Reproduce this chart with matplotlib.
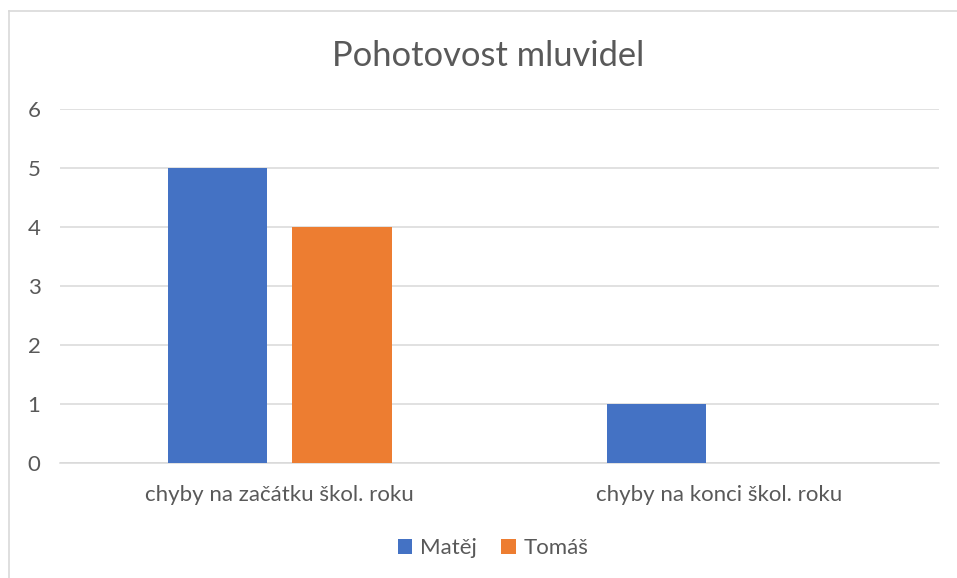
import matplotlib
matplotlib.use("Agg")
import matplotlib.pyplot as plt
import numpy as np
from matplotlib.lines import Line2D

categories = ["chyby na začátku škol. roku", "chyby na konci škol. roku"]
series_names = ["Matěj", "Tomáš"]
matej = [5, 1]
tomas = [4, 0]
yticks = [0, 1, 2, 3, 4, 5, 6]
title = "Pohotovost mluvidel"

colors = ["#4472C4", "#ED7D31"]
txt = "#595959"
grid = "#D9D9D9"

plt.rcParams['font.family'] = ['Lato', 'DejaVu Sans']

fig = plt.figure(figsize=(9.57, 5.78), dpi=100)
ax = fig.add_axes([60/957, 1-463/578, (938.5-60)/957, (463-109)/578])

x = np.arange(len(categories))
w = 0.2255
off = 0.142
ax.bar(x - off, matej, w, color=colors[0], label=series_names[0], zorder=3)
ax.bar(x + off, tomas, w, color=colors[1], label=series_names[1], zorder=3)

ax.set_xlim(-0.5, len(categories) - 0.5)
ax.set_ylim(0, 6)
ax.set_yticks(yticks)
ax.set_xticks(x)
ax.set_xticklabels(categories)
ax.tick_params(axis='both', length=0, labelsize=16, colors=txt)
ax.tick_params(axis='y', pad=14)
ax.tick_params(axis='x', pad=16)
ax.yaxis.grid(True, color=grid, linewidth=1.1, zorder=0)
for s in ['top', 'right', 'left']:
    ax.spines[s].set_visible(False)
ax.spines['bottom'].set_color(grid)
ax.spines['bottom'].set_linewidth(1.1)
ax.spines['bottom'].set_zorder(1)

fig.text(488/957, 1-56/578, title, ha='center', va='center', fontsize=24.8, color=txt)

leg = fig.legend(loc='center', bbox_to_anchor=(493/957, 1-548/578), ncol=2, frameon=False,
                 fontsize=16, handlelength=0.65, handleheight=0.65, handletextpad=0.35,
                 columnspacing=1.1, labelcolor=txt)

# chart border (left and top visible)
fig.add_artist(Line2D([9/957, 9/957], [0, 1-11/578], color="#D9D9D9", linewidth=1.2, transform=fig.transFigure))
fig.add_artist(Line2D([9/957, 1], [1-11/578, 1-11/578], color="#D9D9D9", linewidth=1.2, transform=fig.transFigure))

fig.savefig("out.png", dpi=100)
